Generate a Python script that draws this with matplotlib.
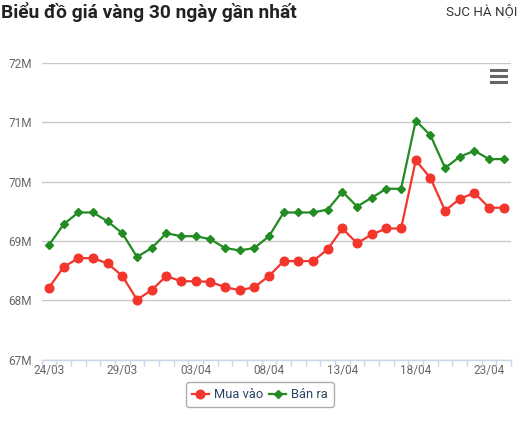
import matplotlib
matplotlib.use("Agg")
import matplotlib.pyplot as plt
from matplotlib.lines import Line2D
from datetime import date, timedelta

plt.rcParams['font.family'] = ['Roboto', 'DejaVu Sans']

# 32 ngày: 24/03 -> 24/04
start = date(2024, 3, 24)
days = [start + timedelta(days=i) for i in range(32)]
labels = [d.strftime('%d/%m') for d in days]

# giá (triệu đồng)
mua_vao = [68.21, 68.56, 68.71, 68.71, 68.62, 68.41, 68.01, 68.17, 68.41, 68.32,
           68.32, 68.31, 68.22, 68.17, 68.22, 68.41, 68.66, 68.66, 68.66, 68.86,
           69.21, 68.96, 69.11, 69.21, 69.21, 70.36, 70.06, 69.51, 69.71, 69.81,
           69.56, 69.56]
ban_ra = [68.93, 69.28, 69.48, 69.48, 69.33, 69.13, 68.73, 68.88, 69.13, 69.08,
          69.08, 69.03, 68.88, 68.84, 68.88, 69.08, 69.48, 69.48, 69.48, 69.53,
          69.83, 69.58, 69.73, 69.88, 69.88, 71.03, 70.78, 70.23, 70.42, 70.52,
          70.38, 70.38]
y_ticks = [67, 68, 69, 70, 71, 72]

red = '#f2362b'
green = '#228b22'
grey_txt = '#666666'

fig = plt.figure(figsize=(5.2, 4.23), dpi=100)
ax = fig.add_axes([0.080, 0.150, 0.903, 0.701])

x = list(range(len(days)))
ax.plot(x, mua_vao, color=red, lw=1.6, marker='o', ms=6.2, label='Mua vào', zorder=3)
ax.plot(x, ban_ra, color=green, lw=1.6, marker='D', ms=4.2, label='Bán ra', zorder=3)

ax.set_xlim(-0.5, len(days) - 0.5)
ax.set_ylim(67, 72)
ax.set_yticks(y_ticks)
ax.set_yticklabels([f'{v}M' for v in y_ticks])
ax.grid(axis='y', color='#c8c8c8', lw=1)
ax.set_axisbelow(True)

# tick nhãn mỗi 5 ngày, vạch nhỏ giữa các ngày
ax.set_xticks(x[::5])
ax.set_xticklabels(labels[::5])
ax.set_xticks([i - 0.5 for i in range(len(days) + 1)], minor=True)
ax.tick_params(axis='x', which='major', length=0, pad=3, labelsize=8.5, colors=grey_txt)
ax.tick_params(axis='x', which='minor', length=4, width=1, color='#ccd6eb', direction='out')
ax.tick_params(axis='y', length=0, pad=7, labelsize=8.5, colors=grey_txt)

for s in ['top', 'right', 'left']:
    ax.spines[s].set_visible(False)
ax.spines['bottom'].set_color('#ccd6eb')
ax.spines['bottom'].set_linewidth(1)

leg = fig.legend(loc='upper center', bbox_to_anchor=(0.5, 0.096), ncol=2, frameon=True,
                 fontsize=9.3, handlelength=1.3, handletextpad=0.4, columnspacing=0.5,
                 borderpad=0.45, borderaxespad=0, fancybox=True, edgecolor='#999999')
for t in leg.get_texts():
    t.set_color('#2a4365')
leg.get_frame().set_linewidth(1)

fig.text(0.002, 0.995, 'Biểu đồ giá vàng 30 ngày gần nhất', ha='left', va='top',
         fontsize=13.8, fontweight='bold', color='#222222')
fig.text(0.995, 0.99, 'SJC HÀ NỘI', ha='right', va='top', fontsize=9.6, color='#333333')

# biểu tượng menu
for yy in [0.835, 0.820, 0.805]:
    fig.add_artist(Line2D([0.944, 0.974], [yy, yy], color='#666666', lw=2.2))

fig.savefig('out.png', dpi=100)
